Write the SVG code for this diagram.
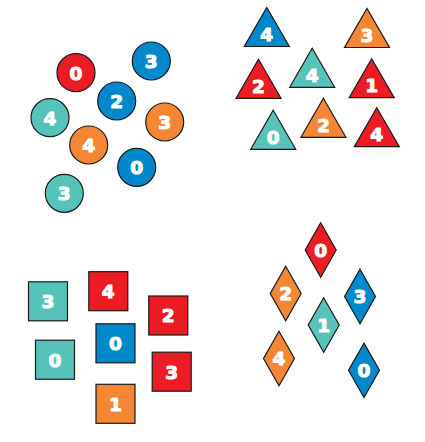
<svg xmlns="http://www.w3.org/2000/svg" width="425" height="442" viewBox="0 0 425 442">
<style>
.s{stroke:#1a1a1a;stroke-width:1.2}
.r{fill:#ED1C24}.b{fill:#0088CC}.t{fill:#55C3B9}.o{fill:#F58634}
text{fill:#fff;stroke:#fff;stroke-width:1.1;stroke-linejoin:round;font-family:"DejaVu Sans",sans-serif;font-weight:bold;font-size:18.5px;text-anchor:middle}
</style>
<rect width="425" height="442" fill="#fff"/>
<defs>
<circle id="c" r="19"/>
<polygon id="tr" points="0,-26 22.5,13 -22.5,13"/>
<rect id="sq" x="-19.5" y="-19.5" width="39" height="39"/>
<polygon id="dm" points="0,-27.2 15.5,0 0,27.2 -15.5,0"/>
</defs>
<g id="circles">
<g id="c1"><use href="#c" x="76" y="72.7" class="s r"/><text x="76" y="79.5">0</text></g>
<g id="c2"><use href="#c" x="151.3" y="61" class="s b"/><text x="151.3" y="67.8">3</text></g>
<g id="c3"><use href="#c" x="116.7" y="101" class="s b"/><text x="116.7" y="107.8">2</text></g>
<g id="c4"><use href="#c" x="50" y="117.7" class="s t"/><text x="50" y="124.5">4</text></g>
<g id="c5"><use href="#c" x="164.7" y="122" class="s o"/><text x="164.7" y="128.8">3</text></g>
<g id="c6"><use href="#c" x="88.7" y="145" class="s o"/><text x="88.7" y="151.8">4</text></g>
<g id="c7"><use href="#c" x="136.7" y="167.3" class="s b"/><text x="136.7" y="174.1">0</text></g>
<g id="c8"><use href="#c" x="64.3" y="193.3" class="s t"/><text x="64.3" y="200.1">3</text></g>
</g>
<g id="triangles">
<g id="t1"><use href="#tr" x="266.8" y="33.5" class="s b"/><text x="266.8" y="41">4</text></g>
<g id="t2"><use href="#tr" x="367" y="34.5" class="s o"/><text x="367" y="42">3</text></g>
<g id="t3"><use href="#tr" x="312.2" y="74.3" class="s t"/><text x="312.2" y="81.8">4</text></g>
<g id="t4"><use href="#tr" x="258.5" y="85.3" class="s r"/><text x="258.5" y="92.8">2</text></g>
<g id="t5"><use href="#tr" x="371.7" y="84.7" class="s r"/><text x="371.7" y="92.2">1</text></g>
<g id="t6"><use href="#tr" x="323.4" y="124.3" class="s o"/><text x="323.4" y="131.8">2</text></g>
<g id="t7"><use href="#tr" x="273.2" y="136.3" class="s t"/><text x="273.2" y="143.8">0</text></g>
<g id="t8"><use href="#tr" x="376.8" y="133.7" class="s r"/><text x="376.8" y="141.2">4</text></g>
</g>
<g id="squares">
<g id="q1"><use href="#sq" x="48" y="301.3" class="s t"/><text x="48" y="308">3</text></g>
<g id="q2"><use href="#sq" x="108.3" y="291.2" class="s r"/><text x="108.3" y="298">4</text></g>
<g id="q3"><use href="#sq" x="168.3" y="315.5" class="s r"/><text x="168.3" y="322.3">2</text></g>
<g id="q4"><use href="#sq" x="115.5" y="343.3" class="s b"/><text x="115.5" y="350.1">0</text></g>
<g id="q5"><use href="#sq" x="55" y="359.7" class="s t"/><text x="55" y="366.5">0</text></g>
<g id="q6"><use href="#sq" x="171.7" y="371.7" class="s r"/><text x="171.7" y="378.5">3</text></g>
<g id="q7"><use href="#sq" x="115.5" y="403.8" class="s o"/><text x="115.5" y="410.6">1</text></g>
</g>
<g id="diamonds">
<g id="d1"><use href="#dm" x="320.7" y="250" class="s r"/><text x="320.7" y="256.8">0</text></g>
<g id="d2"><use href="#dm" x="285.7" y="293.5" class="s o"/><text x="285.7" y="300.3">2</text></g>
<g id="d3"><use href="#dm" x="360" y="296.5" class="s b"/><text x="360" y="303.3">3</text></g>
<g id="d4"><use href="#dm" x="323.7" y="325" class="s t"/><text x="323.7" y="331.8">1</text></g>
<g id="d5"><use href="#dm" x="279" y="358.5" class="s o"/><text x="279" y="365.3">4</text></g>
<g id="d6"><use href="#dm" x="364" y="370.3" class="s b"/><text x="364" y="377.1">0</text></g>
</g>
</svg>
